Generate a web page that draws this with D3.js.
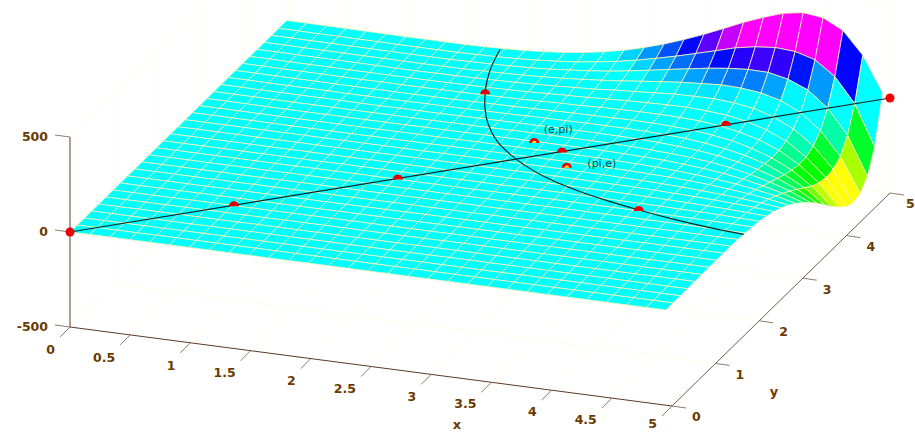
<!DOCTYPE html>
<html>
<head>
<meta charset="utf-8">
<script src="https://cdn.jsdelivr.net/npm/d3@7"></script>
<style>
  html, body { margin: 0; padding: 0; background: #fff; overflow: hidden; }
  text { font-family: "DejaVu Sans", sans-serif; }
</style>
</head>
<body>
<svg id="chart" width="915" height="432"></svg>
<script>
const xTicks = [0, 0.5, 1, 1.5, 2, 2.5, 3, 3.5, 4, 4.5, 5]
const yTicks = [0, 1, 2, 3, 4, 5]
const zTicks = [-500, 0, 500]

const gridX = [0, 0.165, 0.33, 0.495, 0.66, 0.825, 0.99, 1.155, 1.32, 1.485, 1.65, 1.815, 1.98, 2.145, 2.31, 2.475, 2.64, 2.805, 2.97, 3.135, 3.3, 3.465, 3.63, 3.795, 3.96, 4.125, 4.29, 4.455, 4.62, 4.785, 4.95]
const gridY = [0, 0.165, 0.33, 0.495, 0.66, 0.825, 0.99, 1.155, 1.32, 1.485, 1.65, 1.815, 1.98, 2.145, 2.31, 2.475, 2.64, 2.805, 2.97, 3.135, 3.3, 3.465, 3.63, 3.795, 3.96, 4.125, 4.29, 4.455, 4.62, 4.785, 4.97]

// surface height, one row per gridY value, one column per gridX value
const zRows = [
  [0,1,1,1,1,1,1,1,1,1,1,1,1,1,1,1,1,1,1,1,1,1,1,1,1,1,1,1,1,1,1],
  [-1,0,0,0,1,1,1,1,1,1,1,1,1,1,1,1,1,1,1,1,1,1,1,1,1,1,1,1,1,1,1],
  [-1,0,0,0,0,1,1,1,1,1,1,1,1,1,1,1,1,1,1,1,1,1,2,2,2,2,2,2,2,2,2],
  [-1,0,0,0,0,0,1,1,1,1,1,1,1,1,1,1,1,1,2,2,2,2,2,2,2,2,2,2,2,2,2],
  [-1,-1,0,0,0,0,0,0,1,1,1,1,1,1,1,1,1,2,2,2,2,2,2,2,2,2,2,2,3,3,3],
  [-1,-1,-1,0,0,0,0,0,0,1,1,1,1,1,1,1,1,2,2,2,2,2,2,3,3,3,3,3,3,3,3],
  [-1,-1,-1,-1,0,0,0,0,0,0,1,1,1,1,1,1,1,2,2,2,2,2,3,3,3,3,3,3,4,4,4],
  [-1,-1,-1,-1,0,0,0,0,0,0,0,1,1,1,1,1,2,2,2,2,2,3,3,3,3,3,4,4,4,4,4],
  [-1,-1,-1,-1,-1,0,0,0,0,0,0,0,1,1,1,2,2,2,2,2,2,3,3,3,3,3,4,4,4,4,4],
  [-1,-1,-1,-1,-1,-1,0,0,0,0,0,0,0,1,1,1,1,1,2,2,2,2,3,3,3,3,3,3,4,4,4],
  [-1,-1,-1,-1,-1,-1,-1,0,0,0,0,0,0,0,1,1,1,1,1,2,2,2,2,2,2,2,2,3,2,2,2],
  [-1,-1,-1,-1,-1,-1,-1,0,0,0,0,0,0,0,0,0,1,1,1,1,2,2,2,2,2,1,1,1,0,0,-1],
  [-1,-1,-1,-1,-1,-1,-1,-1,0,0,0,0,0,0,0,0,0,1,1,1,2,1,1,1,0,0,-1,-2,-3,-4,-6],
  [-1,-1,-1,-1,-1,-1,-1,-1,-1,0,0,0,0,0,0,0,0,0,1,1,1,0,0,-1,-1,-2,-4,-5,-7,-10,-13],
  [-1,-1,-1,-1,-1,-1,-1,-1,-1,-1,0,0,0,0,0,0,0,0,0,0,0,-1,-1,-2,-3,-5,-7,-10,-13,-18,-23],
  [-1,-1,-1,-1,-1,-1,-1,-1,-1,-1,-1,0,0,0,0,0,0,0,0,0,-1,-2,-3,-4,-6,-9,-12,-16,-22,-28,-36],
  [-1,-1,-1,-1,-1,-1,-1,-1,-1,-1,-1,-1,-1,0,0,0,0,0,0,0,-2,-2,-4,-6,-9,-13,-18,-24,-32,-42,-54],
  [-1,-1,-1,-1,-2,-2,-2,-2,-2,-1,-1,-1,-1,0,0,0,0,0,0,0,-2,-3,-5,-8,-11,-16,-23,-33,-44,-58,-76],
  [-1,-1,-1,-2,-2,-2,-2,-2,-2,-2,-1,-1,-1,-1,0,0,0,0,0,0,-1,-3,-6,-9,-15,-22,-32,-43,-59,-78,-104],
  [-1,-1,-1,-2,-2,-2,-2,-2,-2,-2,-2,-1,-1,-1,0,0,0,0,0,0,-1,-3,-6,-10,-17,-26,-38,-55,-76,-102,-136],
  [-1,-1,-1,-2,-2,-2,-2,-2,-2,-2,-2,-2,-1,-1,0,1,2,2,1,1,0,-2,-6,-12,-19,-30,-45,-67,-94,-127,-173],
  [-1,-1,-2,-2,-2,-2,-2,-3,-3,-2,-2,-2,-1,0,1,2,2,3,3,3,2,0,-4,-10,-19,-32,-52,-77,-111,-155,-214],
  [-1,-1,-2,-2,-2,-2,-3,-3,-3,-3,-2,-2,-1,0,1,3,4,5,6,6,6,4,0,-6,-17,-33,-54,-84,-128,-183,-259],
  [-1,-1,-2,-2,-2,-3,-3,-3,-3,-3,-2,-2,-1,1,2,4,6,8,9,10,12,10,6,0,-12,-28,-55,-91,-141,-212,-305],
  [-1,-1,-2,-2,-2,-3,-3,-3,-3,-3,-2,-2,0,1,3,6,9,11,15,17,19,19,17,12,0,-19,-47,-88,-149,-231,-345],
  [-1,-1,-2,-2,-2,-3,-3,-3,-3,-3,-2,-1,0,2,5,9,13,16,22,26,30,32,33,28,19,0,-31,-76,-147,-241,-380],
  [-1,-1,-2,-2,-2,-3,-3,-4,-4,-3,-2,-1,1,4,7,12,18,23,32,38,45,52,54,55,47,31,0,-49,-125,-234,-397],
  [-1,-1,-2,-2,-3,-3,-3,-4,-4,-3,-3,-1,2,5,10,16,24,33,43,55,67,77,84,91,88,76,49,0,-82,-204,-384],
  [-1,-1,-2,-2,-3,-3,-4,-4,-4,-4,-2,0,3,7,13,22,32,44,59,76,94,111,128,141,149,147,125,82,0,-129,-331],
  [-1,-1,-2,-2,-3,-3,-4,-4,-4,-4,-2,0,4,10,18,28,42,58,78,102,127,155,183,212,231,241,234,204,129,0,-214],
  [-1,-1,-2,-2,-3,-3,-4,-4,-4,-4,-2,1,6,13,23,36,54,76,104,136,173,214,259,305,345,380,397,384,331,214,30]
]

// the x = y line and the other branch of x^y = y^x, both lying at height 0
const diagonalX = [0, 5]
const diagonalY = [0, 5]
const curveX = [1.78, 1.84, 1.91, 2, 2.11, 2.25, 2.44, 2.72, 3.05, 3.375, 3.69, 4, 4.3, 4.6, 4.95]
const curveY = [4.95, 4.6, 4.3, 4, 3.69, 3.375, 3.05, 2.72, 2.44, 2.25, 2.11, 2, 1.91, 1.84, 1.78]

const endDotsX = [0, 5]
const endDotsY = [0, 5]
const domeDotsX = [1, 2, 3, 4, 2, 4]
const domeDotsY = [1, 2, 3, 4, 4, 2]
const namedDotsX = [2.718, 3.142]
const namedDotsY = [3.142, 2.718]
const namedDotLabels = ['(e,pi)', '(pi,e)']

const xToLeft = d3.scaleLinear([0, 5], [70, 672])
const xToDown = d3.scaleLinear([0, 5], [0, 79])
const yToLeft = d3.scaleLinear([0, 5], [0, 218])
const yToDown = d3.scaleLinear([0, 5], [0, -213])
const zToDown = d3.scaleLinear([-500, 500], [327, 137])

function project(x, y, z) {
  return [xToLeft(x) + yToLeft(y), xToDown(x) + yToDown(y) + zToDown(z)]
}

const colour = d3.scaleLinear()
  .domain([-300, -190, -60, 60, 170, 260])
  .range(['#ffff00', '#00ff00', '#00ffff', '#00ffff', '#0000ff', '#ff00ff'])
  .clamp(true)

const svg = d3.select('#chart')
const line = d3.line()

// faint floor and wall grid
const grid = svg.append('g')
  .attr('fill', 'none')
  .attr('stroke', '#fffdea')
  .attr('stroke-width', 1)
xTicks.forEach(x => {
  grid.append('path').attr('d', line([project(x, 0, -500), project(x, 5, -500), project(x, 5, 500)]))
})
yTicks.forEach(y => {
  grid.append('path').attr('d', line([project(5, y, -500), project(0, y, -500), project(0, y, 500)]))
})
zTicks.forEach(z => {
  grid.append('path').attr('d', line([project(0, 0, z), project(0, 5, z), project(5, 5, z)]))
})

// surface cells, far ones first so near ones paint over them
const cells = []
for (let j = 0; j < gridY.length - 1; j++) {
  for (let i = 0; i < gridX.length - 1; i++) {
    cells.push({ i: i, j: j, depth: i - j })
  }
}
cells.sort((a, b) => a.depth - b.depth)

svg.append('g')
  .selectAll('path')
  .data(cells)
  .enter()
  .append('path')
  .attr('d', c => {
    const corners = [[c.i, c.j], [c.i + 1, c.j], [c.i + 1, c.j + 1], [c.i, c.j + 1]]
    return line(corners.map(p => project(gridX[p[0]], gridY[p[1]], zRows[p[1]][p[0]]))) + 'Z'
  })
  .attr('fill', c => colour((zRows[c.j][c.i] + zRows[c.j][c.i + 1] + zRows[c.j + 1][c.i] + zRows[c.j + 1][c.i + 1]) / 4))
  .attr('stroke', '#f6f2b4')
  .attr('stroke-width', 0.8)
  .attr('stroke-linejoin', 'round')

// axes
const axisColour = '#5f3a28'
const tickColour = '#8c7c74'
const labelColour = '#6a3a00'

svg.append('path')
  .attr('d', line([project(0, 0, 500), project(0, 0, -500)]))
  .attr('stroke', axisColour).attr('fill', 'none')
svg.append('path')
  .attr('d', line([project(0, 0, -500), project(5, 0, -500)]))
  .attr('stroke', axisColour).attr('fill', 'none')
svg.append('path')
  .attr('d', line([project(5, 0, -500), project(5, 5, -500)]))
  .attr('stroke', '#6f5e54').attr('fill', 'none')

zTicks.forEach(z => {
  const p = project(0, 0, z)
  svg.append('path').attr('d', line([p, [p[0] - 15, p[1] - 2]])).attr('stroke', tickColour)
  svg.append('text')
    .attr('x', p[0] - 22).attr('y', p[1]).attr('dy', '0.35em')
    .attr('text-anchor', 'end').attr('font-size', 12.5).attr('font-weight', 'bold')
    .attr('fill', labelColour).text(z)
})

xTicks.forEach(x => {
  const p = project(x, 0, -500)
  svg.append('path').attr('d', line([p, [p[0] - 10, p[1] + 10]])).attr('stroke', tickColour)
  svg.append('text')
    .attr('x', p[0] - 15).attr('y', Math.min(p[1] + 23 - 0.4 * x, 424)).attr('dy', '0.35em')
    .attr('text-anchor', 'end').attr('font-size', 12.5).attr('font-weight', 'bold')
    .attr('fill', labelColour).text(x)
})

yTicks.forEach(y => {
  const p = project(5, y, -500)
  svg.append('path').attr('d', line([p, [p[0] + 14, p[1] + 2]])).attr('stroke', tickColour)
  svg.append('text')
    .attr('x', Math.min(p[0] + 20, 906)).attr('y', p[1] + 11).attr('dy', '0.35em')
    .attr('font-size', 12.5).attr('font-weight', 'bold')
    .attr('fill', labelColour).text(y)
})

svg.append('text').attr('x', 457).attr('y', 424).attr('dy', '0.35em')
  .attr('text-anchor', 'middle').attr('font-size', 13).attr('font-weight', 'bold')
  .attr('fill', labelColour).text('x')
svg.append('text').attr('x', 774).attr('y', 391).attr('dy', '0.35em')
  .attr('text-anchor', 'middle').attr('font-size', 13).attr('font-weight', 'bold')
  .attr('fill', labelColour).text('y')

// lines on the surface
const curveLine = d3.line().curve(d3.curveCatmullRom)
svg.append('path')
  .attr('d', line(diagonalX.map((x, i) => project(x, diagonalY[i], 0))))
  .attr('fill', 'none').attr('stroke', '#06282c').attr('stroke-width', 1.2)
svg.append('path')
  .attr('d', curveLine(curveX.map((x, i) => project(x, curveY[i], 0))))
  .attr('fill', 'none').attr('stroke', '#06282c').attr('stroke-width', 1.2)

// dots: the ones inside the surface only show their top half
const halfDot = d3.arc().innerRadius(0).startAngle(-Math.PI / 2).endAngle(Math.PI / 2)

endDotsX.forEach((x, i) => {
  const p = project(x, endDotsY[i], 0)
  svg.append('circle').attr('cx', p[0]).attr('cy', p[1]).attr('r', 4.5).attr('fill', '#f00000')
})
domeDotsX.forEach((x, i) => {
  const p = project(x, domeDotsY[i], 0)
  svg.append('path').attr('transform', `translate(${p[0]},${p[1] + 1})`)
    .attr('d', halfDot({ outerRadius: 5 })).attr('fill', '#e80000')
})
namedDotsX.forEach((x, i) => {
  const p = project(x, namedDotsY[i], 0)
  svg.append('path').attr('transform', `translate(${p[0]},${p[1] + 2})`)
    .attr('d', halfDot({ outerRadius: 5 })).attr('fill', '#f00000')
  svg.append('path').attr('transform', `translate(${p[0]},${p[1] + 2})`)
    .attr('d', halfDot({ outerRadius: 2.4 })).attr('fill', '#ffe020')
})

const labelOffsets = [[24, -12], [35, -3]]
namedDotLabels.forEach((label, i) => {
  const p = project(namedDotsX[i], namedDotsY[i], 0)
  svg.append('text')
    .attr('x', p[0] + labelOffsets[i][0]).attr('y', p[1] + labelOffsets[i][1]).attr('dy', '0.35em')
    .attr('text-anchor', 'middle').attr('font-size', 11)
    .attr('fill', '#0c4a4a').text(label)
})
</script>
</body>
</html>
